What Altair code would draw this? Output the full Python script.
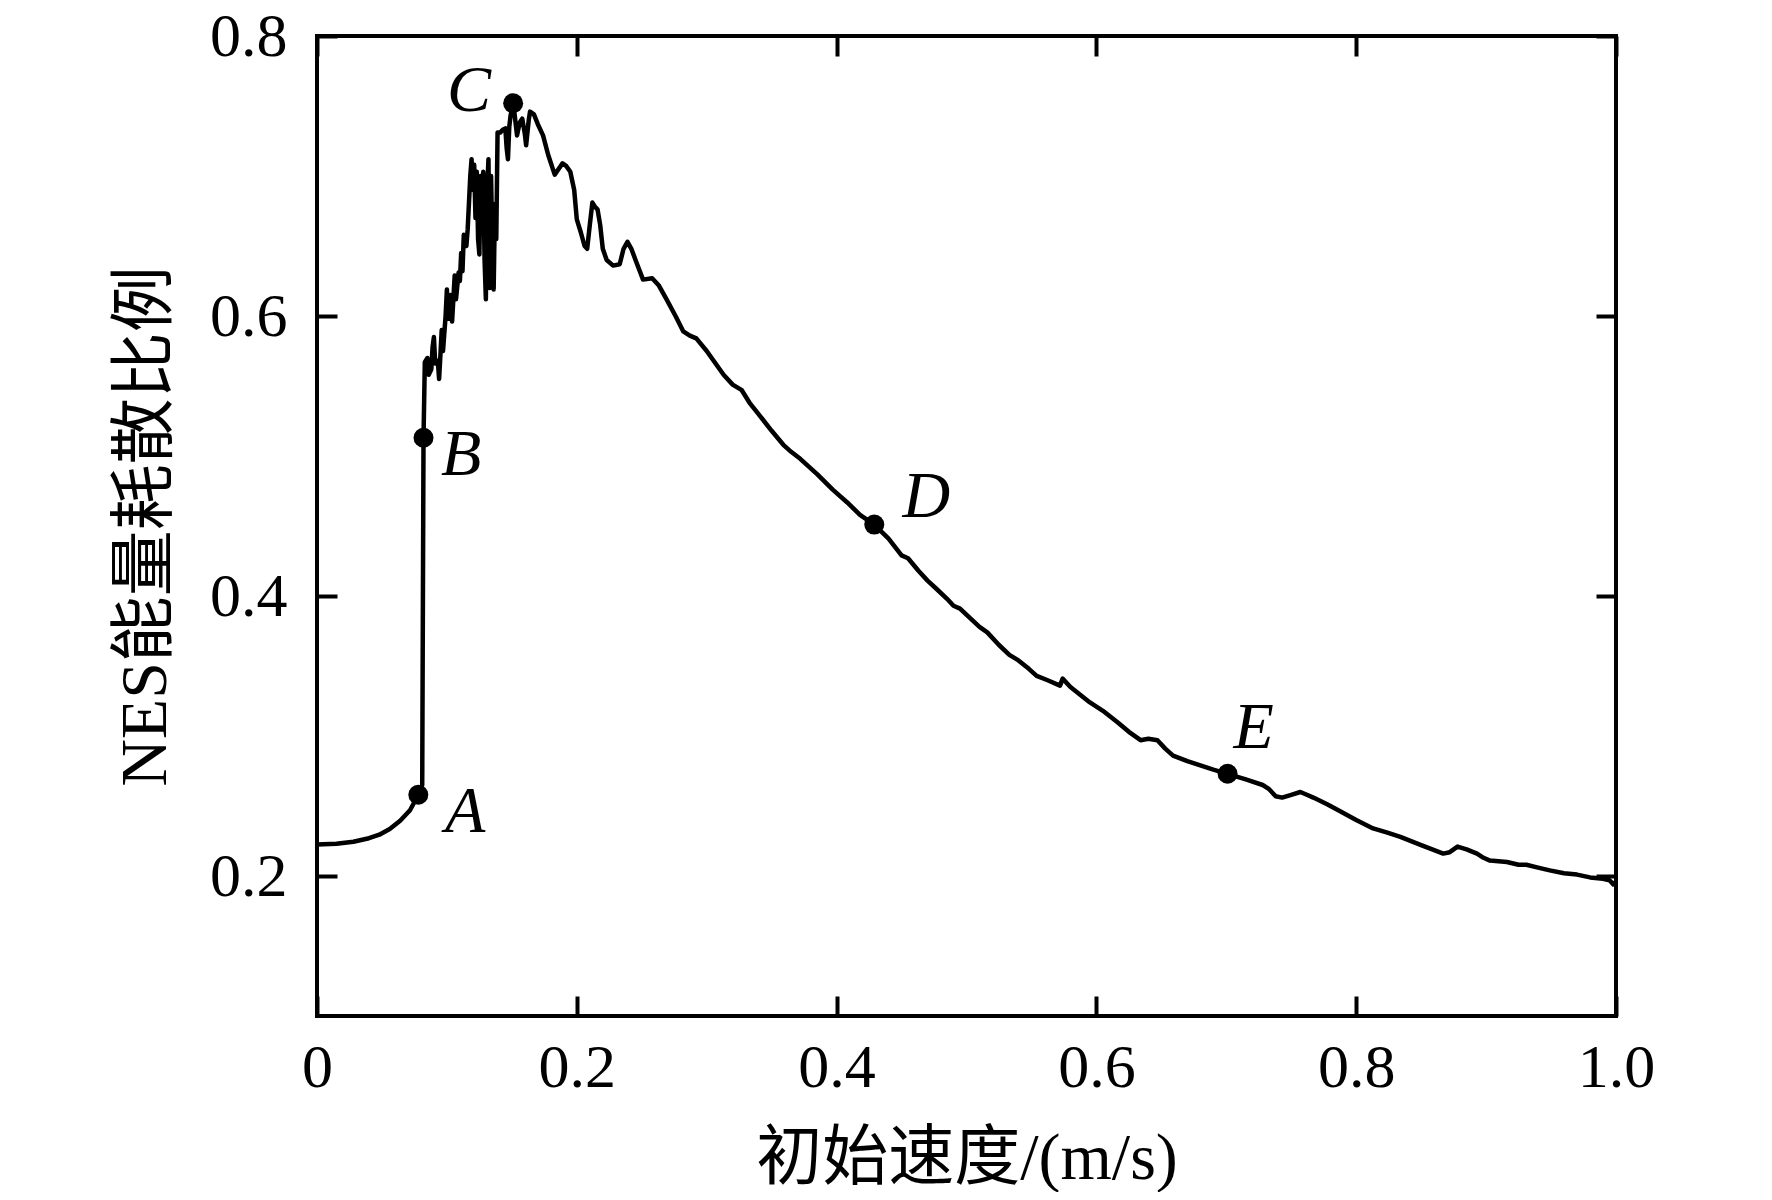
import altair as alt
import pandas as pd

# ---- data (curve in drawing order) ----
start_v = [0.000, 0.015, 0.028, 0.040, 0.048, 0.056, 0.064, 0.0716, 0.078,
           0.081, 0.082]
start_r = [0.2225, 0.2230, 0.2245, 0.2270, 0.2295, 0.2335, 0.2395, 0.2470,
           0.258, 0.265, 0.513]

noisy_v = [0.083, 0.085, 0.086, 0.088, 0.089, 0.090, 0.091, 0.093, 0.094,
           0.095, 0.096, 0.097, 0.099, 0.100, 0.101, 0.103, 0.104, 0.106,
           0.107, 0.109, 0.110, 0.111, 0.112, 0.113, 0.115, 0.116, 0.118,
           0.119, 0.120, 0.121, 0.122, 0.123, 0.124, 0.125, 0.126, 0.127,
           0.128, 0.129, 0.130, 0.131, 0.132, 0.133, 0.134, 0.135, 0.136,
           0.137, 0.138, 0.139]
noisy_r = [0.567, 0.570, 0.558, 0.562, 0.578, 0.585, 0.566, 0.568, 0.555,
           0.572, 0.590, 0.575, 0.600, 0.619, 0.598, 0.615, 0.596, 0.629,
           0.612, 0.631, 0.625, 0.645, 0.632, 0.658, 0.650, 0.662, 0.700,
           0.712, 0.690, 0.708, 0.670, 0.703, 0.655, 0.644, 0.700, 0.690,
           0.703, 0.640, 0.612, 0.690, 0.712, 0.620, 0.700, 0.650, 0.619,
           0.680, 0.655, 0.731]

peak_v = [0.141, 0.143, 0.145, 0.146, 0.147, 0.148, 0.149, 0.151, 0.152,
          0.154, 0.156, 0.158, 0.160, 0.161, 0.163, 0.164, 0.167, 0.170,
          0.174, 0.178, 0.183, 0.186, 0.189, 0.192, 0.195, 0.198, 0.200,
          0.203, 0.206, 0.208, 0.210, 0.212, 0.214, 0.216, 0.218, 0.220,
          0.223, 0.228, 0.233, 0.236, 0.239, 0.242, 0.246, 0.251, 0.258,
          0.263, 0.269, 0.276, 0.282, 0.287, 0.292, 0.300, 0.313, 0.320,
          0.327, 0.333, 0.339, 0.350, 0.359, 0.365, 0.372, 0.385, 0.397,
          0.408, 0.418, 0.429]
peak_r = [0.731, 0.733, 0.734, 0.720, 0.712, 0.735, 0.743, 0.752, 0.745,
          0.729, 0.738, 0.741, 0.730, 0.722, 0.740, 0.746, 0.744, 0.737,
          0.729, 0.715, 0.701, 0.705, 0.709, 0.707, 0.703, 0.690, 0.669,
          0.660, 0.650, 0.648, 0.665, 0.681, 0.678, 0.676, 0.665, 0.648,
          0.640, 0.636, 0.637, 0.648, 0.653, 0.648, 0.638, 0.626, 0.627,
          0.622, 0.612, 0.600, 0.589, 0.586, 0.584, 0.575, 0.558, 0.551,
          0.547, 0.538, 0.531, 0.518, 0.508, 0.503, 0.498, 0.487, 0.476,
          0.467, 0.458, 0.451]

tail_v = [0.440, 0.450, 0.455, 0.463, 0.470, 0.477, 0.485, 0.490, 0.495,
          0.503, 0.510, 0.516, 0.525, 0.533, 0.540, 0.548, 0.554, 0.562,
          0.572, 0.574, 0.580, 0.595, 0.605, 0.616, 0.625, 0.634, 0.640,
          0.647, 0.653, 0.659, 0.670, 0.680, 0.690, 0.701, 0.715, 0.728,
          0.733, 0.738, 0.743, 0.750, 0.757, 0.762, 0.767, 0.778, 0.788,
          0.800, 0.813, 0.824, 0.834, 0.850, 0.867, 0.872, 0.878, 0.885,
          0.893, 0.898, 0.903, 0.916, 0.925, 0.931, 0.940, 0.949, 0.960,
          0.970, 0.980, 0.990, 0.995, 0.998, 1.000]
tail_r = [0.441, 0.429, 0.427, 0.418, 0.411, 0.405, 0.398, 0.393, 0.391,
          0.384, 0.378, 0.374, 0.365, 0.358, 0.354, 0.348, 0.343, 0.340,
          0.336, 0.341, 0.335, 0.324, 0.318, 0.310, 0.303, 0.297, 0.298,
          0.297, 0.291, 0.286, 0.282, 0.279, 0.276, 0.273, 0.269, 0.265,
          0.262, 0.257, 0.256, 0.258, 0.260, 0.258, 0.256, 0.251, 0.246,
          0.240, 0.234, 0.231, 0.228, 0.222, 0.216, 0.217, 0.221, 0.219,
          0.216, 0.213, 0.211, 0.210, 0.208, 0.208, 0.206, 0.204, 0.202,
          0.201, 0.199, 0.198, 0.197, 0.194, 0.196]

point_names = ["A", "B", "C", "D", "E"]
point_speed = [0.078, 0.082, 0.151, 0.429, 0.701]
point_ratio = [0.258, 0.513, 0.752, 0.451, 0.273]

label_speed = [0.114, 0.111, 0.117, 0.469, 0.721]
label_ratio = [0.246, 0.501, 0.761, 0.471, 0.306]

x_ticks = [0, 0.2, 0.4, 0.6, 0.8, 1.0]
y_ticks = [0.2, 0.4, 0.6, 0.8]

x_title = "初始速度/(m/s)"
y_title = "NES能量耗散比例"

# ---- tables ----
speed = start_v + noisy_v + peak_v + tail_v
ratio = start_r + noisy_r + peak_r + tail_r
line_df = pd.DataFrame({"v": speed, "r": ratio, "i": list(range(len(speed)))})
pts_df = pd.DataFrame({"v": point_speed, "r": point_ratio, "name": point_names})
lab_df = pd.DataFrame({"v": label_speed, "r": label_ratio, "name": point_names})

FONT = "Liberation Serif, Noto Sans CJK SC"
xs = alt.Scale(domain=[0, 1], nice=False, zero=False)
ys = alt.Scale(domain=[0.1, 0.8], nice=False, zero=False)

common_axis = dict(
    domain=False, grid=False, ticks=True, tickSize=20, tickWidth=4,
    tickColor="black", offset=-20,
)

x_axis = alt.Axis(
    orient="bottom", values=x_ticks, title=x_title,
    labelExpr="datum.value == 0 ? '0' : format(datum.value, '.1f')",
    labelFont=FONT, labelFontSize=62, labelColor="black", labelPadding=21,
    labelFlush=False, labelOverlap=False,
    titleFont=FONT, titleFontSize=66, titleFontWeight="normal",
    titleColor="black", titlePadding=28, **common_axis,
)
y_axis = alt.Axis(
    orient="left", values=y_ticks, title=y_title, format=".1f",
    labelFont=FONT, labelFontSize=62, labelColor="black", labelPadding=30,
    labelOverlap=False,
    titleFont=FONT, titleFontSize=66, titleFontWeight="normal",
    titleColor="black", titlePadding=30, **common_axis,
)
x_top = alt.Axis(orient="top", values=x_ticks, labels=False, title=None,
                 **common_axis)
y_right = alt.Axis(orient="right", values=y_ticks, labels=False, title=None,
                   **common_axis)

line = alt.Chart(line_df).mark_line(
    color="black", strokeWidth=4.5, strokeJoin="round"
).encode(
    x=alt.X("v:Q", scale=xs, axis=x_axis),
    y=alt.Y("r:Q", scale=ys, axis=y_axis),
    order=alt.Order("i:Q"),
)

points = alt.Chart(pts_df).mark_circle(
    color="black", opacity=1, size=400
).encode(
    x=alt.X("v:Q", scale=xs, axis=None),
    y=alt.Y("r:Q", scale=ys, axis=None),
)

labels = alt.Chart(lab_df).mark_text(
    font="Liberation Serif", fontStyle="italic", fontSize=66,
    color="black", align="center", baseline="middle",
).encode(
    x=alt.X("v:Q", scale=xs, axis=None),
    y=alt.Y("r:Q", scale=ys, axis=None),
    text="name:N",
)

ghost = alt.Chart(line_df).mark_line(opacity=0).encode(
    x=alt.X("v:Q", scale=xs, axis=x_top),
    y=alt.Y("r:Q", scale=ys, axis=y_right),
    order=alt.Order("i:Q"),
)

chart = alt.layer(line, points, labels, ghost).resolve_axis(
    x="independent", y="independent"
).properties(
    width=1299, height=980,
    autosize=alt.AutoSizeParams(type="none"),
    padding={"left": 309, "top": 28, "right": 148, "bottom": 176},
    background="white",
).configure_view(stroke="black", strokeWidth=4)

chart.save("out.html", embed_options={"renderer": "svg", "actions": False})
